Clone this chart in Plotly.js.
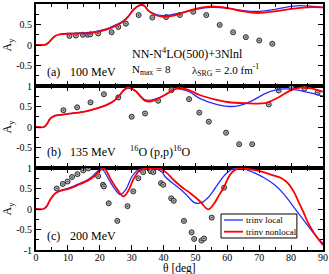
<!DOCTYPE html>
<html><head><meta charset="utf-8">
<script src="https://cdn.plot.ly/plotly-3.0.1.min.js"></script>
<style>html,body{margin:0;padding:0;background:#fff}</style>
</head><body>
<div id="chart" style="width:329px;height:274px"></div>
<script>
// ---- Data ----
// Panel (a) 100 MeV
const expA_theta = [10.5,12.5,14.7,16.2,17.0,19.5,23.7,25.8,28.2,32.2,36.5,40.8,45.1,49.3,53.4,57.6,61.8,65.8,70.0,74.1];
const expA_ay    = [0.22,0.23,0.25,0.25,0.26,0.28,0.31,0.44,0.52,0.73,0.67,0.68,0.73,0.81,0.73,0.49,0.31,0.19,0.11,0.03];
const locA_theta = [0,2,3,4,5,6,7,8,10,13,17,20,23,25,27.4,29,30.5,32,33,34,35.2,37.8,41,45,50,55,60,65,70,75,80,83,87,90];
const locA_ay    = [0,0,0.01,0.06,0.15,0.22,0.25,0.265,0.28,0.29,0.31,0.35,0.42,0.49,0.59,0.71,0.86,0.95,0.97,0.95,0.84,0.74,0.72,0.78,0.87,0.92,0.9,0.84,0.82,0.87,0.94,0.96,0.94,0.92];
const nlA_theta  = [0,2,3,4,5,6,7,8,10,13,17,20,23,25,27.4,29,30.5,32,33,34,35.2,37.8,41,45,50,55,60,65,69.5,75,80,85,90];
const nlA_ay     = [0,0,0.01,0.06,0.15,0.22,0.25,0.265,0.275,0.28,0.29,0.33,0.4,0.47,0.57,0.7,0.85,0.95,0.98,0.96,0.84,0.72,0.69,0.76,0.88,0.94,0.9,0.82,0.78,0.82,0.88,0.92,0.92];

// Panel (b) 135 MeV
const expB_theta = [8.6,12.9,17.1,21.3,25.8,30.0,34.2,38.3,42.5,48.0,51.2,54.2,59.6,63.7,67.8,73.0,76.1,80.1,84.2,88.3];
const expB_ay    = [0.41,0.48,0.60,0.80,0.72,0.25,0.33,0.64,0.90,0.68,0.35,0.13,-0.14,-0.42,-0.42,0.55,0.89,0.97,0.94,0.84];
const locB_theta = [0,2.5,3.5,4.4,5.5,7,10,14.8,18,22.2,24.5,26.3,27.5,28.7,30,31.5,32.6,34,35.5,37.3,40.4,42.5,44,48,51.3,56.3,60.8,64,68,72,75,78,82,86,90];
const locB_ay    = [0,0,0.08,0.2,0.26,0.29,0.32,0.37,0.43,0.54,0.64,0.78,0.89,0.94,0.93,0.86,0.77,0.67,0.65,0.68,0.78,0.88,0.93,0.86,0.7,0.56,0.5,0.53,0.65,0.82,0.9,0.93,0.9,0.83,0.75];
const nlB_theta  = [0,2.5,3.5,4.4,5.5,7,10,14.8,18,22.2,24.5,26.3,27.5,28.7,30,31.5,32.6,34,35.5,37.3,40.4,42.5,44.5,48,51.3,56.3,60,65.5,71.8,76,80,83,86,90];
const nlB_ay     = [0,0,0.08,0.2,0.26,0.29,0.32,0.37,0.43,0.54,0.64,0.78,0.9,0.96,0.94,0.86,0.76,0.65,0.62,0.66,0.78,0.88,0.95,0.9,0.78,0.67,0.61,0.58,0.58,0.72,0.9,0.96,0.95,0.86];

// Panel (c) 200 MeV
const expC_theta = [6.5,8.4,9.9,11.3,13.0,14.8,16.4,19.5,21.0,21.3,22.8,25.5,28.7,30.5,32.1,33.6,36.0,36.8,39.2,39.9,42.4,43.2,46.4,48.8,49.6,51.9,52.7,55.1,59.0];
const expC_ay    = [0.50,0.61,0.67,0.78,0.85,0.94,0.99,0.80,0.59,0.55,0.14,-0.29,0.07,0.43,0.75,0.90,0.92,0.90,0.63,0.59,0.26,0.20,-0.29,-0.57,-0.73,-0.77,-0.72,-0.21,0.52];
const locC_theta = [0,2.3,3.3,4.4,6,8,10.6,13,15.9,18,19.3,20.3,21.3,22.6,24.6,26.4,28.2,30,31.5,33,35,37,39.5,40.4,43,45,47,49.8,52,54,56.1,59.2,61.5,63.5,66,68.5,71.8,75,78,81,84.3,87.5,90];
const locC_ay    = [0,0,0.06,0.22,0.38,0.46,0.52,0.6,0.7,0.82,0.92,0.97,0.93,0.75,0.5,0.35,0.48,0.78,0.92,0.97,0.99,1.0,0.9,0.8,0.62,0.5,0.36,0.15,0.16,0.28,0.5,0.83,0.97,1.0,0.96,0.88,0.75,0.58,0.34,0.03,-0.31,-0.63,-0.84];
const nlC_theta  = [0,2.3,3.3,4.4,6,8,10.6,13,15.9,18,19.5,20.7,21.8,23.2,25.3,27.4,29,30.5,32,33.6,36,39,41,43,45.5,48.3,51.4,54,56,57.5,58.7,60.8,62.5,64.5,67,70,73.9,77,79.1,81,82.2,84,85.4,87.5,90];
const nlC_ay     = [0,0,0.06,0.22,0.38,0.45,0.5,0.58,0.68,0.78,0.9,0.98,0.96,0.76,0.5,0.31,0.45,0.72,0.9,0.97,1.0,0.98,0.88,0.72,0.55,0.39,0.19,-0.01,0.15,0.35,0.5,0.83,0.96,1.0,0.97,0.93,0.83,0.75,0.62,0.4,0.2,-0.1,-0.35,-0.62,-0.88];

const seriesNames = ['trinv local', 'trinv nonlocal'];
const yTickVals = [-1,-0.5,0,0.5,1];
const yTickTextTop = ['', '-0.5', '0', '0.5', '1'];
const yTickTextBottom = ['-1', '-0.5', '0', '0.5', '1'];
const xTickVals = [0,10,20,30,40,50,60,70,80,90];

// ---- Styles ----
const FONT = 'Liberation Serif, Times New Roman, serif';
const BLUE = '#2a2aff';
const RED = '#ff0000';
const expMarker = {symbol:'circle-dot', size:5, color:'#b0b0b0', line:{color:'#2a2a2a', width:1}};

function expTrace(x, y, xa, ya){
  return {x:x, y:y, xaxis:xa, yaxis:ya, type:'scatter', mode:'markers', marker:expMarker, showlegend:false, hoverinfo:'skip'};
}
function curve(x, y, xa, ya, color, w){
  return {x:x, y:y, xaxis:xa, yaxis:ya, type:'scatter', mode:'lines',
          line:{color:color, width:w, shape:'spline', smoothing:0.9}, showlegend:false, hoverinfo:'skip'};
}

const data = [
  expTrace(expA_theta, expA_ay, 'x', 'y'),
  curve(locA_theta, locA_ay, 'x', 'y', BLUE, 1.3),
  curve(nlA_theta, nlA_ay, 'x', 'y', RED, 1.8),
  expTrace(expB_theta, expB_ay, 'x2', 'y2'),
  curve(locB_theta, locB_ay, 'x2', 'y2', BLUE, 1.3),
  curve(nlB_theta, nlB_ay, 'x2', 'y2', RED, 1.8),
  expTrace(expC_theta, expC_ay, 'x3', 'y3'),
  curve(locC_theta, locC_ay, 'x3', 'y3', BLUE, 1.3),
  curve(nlC_theta, nlC_ay, 'x3', 'y3', RED, 1.8)
];

function xAxis(anchor, showLabels){
  return {anchor:anchor, range:[0,90], showline:true, linecolor:'#000', linewidth:2, mirror:'ticks',
    ticks:'inside', ticklen:5, tickwidth:1, tickcolor:'#000', tickmode:'array', tickvals:xTickVals,
    showticklabels:showLabels, tickfont:{family:FONT, size:10, color:'#000'}, ticklabelstandoff:-3,
    minor:{dtick:5, tick0:0, ticks:'inside', ticklen:3, tickcolor:'#000', showgrid:false},
    showgrid:false, zeroline:false, fixedrange:true};
}
function yAxis(anchor, domain, texts){
  return {anchor:anchor, domain:domain, range:[-1,1], showline:true, linecolor:'#000', linewidth:2, mirror:'ticks',
    ticks:'inside', ticklen:5, tickwidth:1, tickcolor:'#000', tickmode:'array', tickvals:yTickVals, ticktext:texts,
    tickfont:{family:FONT, size:10, color:'#000'},
    minor:{dtick:0.25, tick0:0, ticks:'inside', ticklen:3, tickcolor:'#000', showgrid:false},
    title:{text:'A<sub>y</sub>', font:{family:FONT, size:12, color:'#000'}, standoff:4},
    showgrid:false, zeroline:false, fixedrange:true};
}

function ann(text, x, y, xr, yr, size, xanchor){
  return {text:text, x:x, y:y, xref:xr, yref:yr, xanchor:xanchor||'left', yanchor:'middle', showarrow:false,
          font:{family:FONT, size:size, color:'#000'}};
}

// legend box (paper coordinates of the plot area)
const LG = {x0:0.6446, x1:0.909, y0:0.0488, y1:0.1463, lx0:0.655, lx1:0.721, tx:0.726, ya:0.122, yb:0.0744};

const layout = {
  width:329, height:274,
  margin:{l:36, r:6, t:4, b:24},
  paper_bgcolor:'#fff', plot_bgcolor:'#fff',
  font:{family:FONT, color:'#000'},
  showlegend:false,
  xaxis:xAxis('y', false),
  xaxis2:xAxis('y2', false),
  xaxis3:xAxis('y3', true),
  yaxis:yAxis('x', [2/3, 1], yTickTextTop),
  yaxis2:yAxis('x2', [1/3, 2/3], yTickTextTop),
  yaxis3:yAxis('x3', [0, 1/3], yTickTextBottom),
  shapes:[
    {type:'rect', xref:'paper', yref:'paper', x0:LG.x0, x1:LG.x1, y0:LG.y0, y1:LG.y1, fillcolor:'#fff', line:{color:'#000', width:1}},
    {type:'line', xref:'paper', yref:'paper', x0:LG.lx0, x1:LG.lx1, y0:LG.ya, y1:LG.ya, line:{color:BLUE, width:1.3}},
    {type:'line', xref:'paper', yref:'paper', x0:LG.lx0, x1:LG.lx1, y0:LG.yb, y1:LG.yb, line:{color:RED, width:1.8}}
  ],
  annotations:[
    ann('(a)', 2.8, -0.65, 'x', 'y', 12),
    ann('100 MeV', 10, -0.65, 'x', 'y', 12),
    ann('NN-N<sup>4</sup>LO(500)+3Nlnl', 29.5, -0.2, 'x', 'y', 12),
    ann('N<sub>max</sub> = 8', 29.5, -0.6, 'x', 'y', 11),
    ann('λ<sub>SRG</sub> = 2.0 fm<sup>-1</sup>', 48.3, -0.6, 'x', 'y', 11),
    ann('(b)', 2.8, -0.6, 'x2', 'y2', 12),
    ann('135 MeV', 10, -0.6, 'x2', 'y2', 12),
    ann('<sup>16</sup>O (p,p)<sup>16</sup>O', 28.8, -0.6, 'x2', 'y2', 12),
    ann('(c)', 2.8, -0.66, 'x3', 'y3', 12),
    ann('200 MeV', 10, -0.66, 'x3', 'y3', 12),
    ann(seriesNames[0], LG.tx, LG.ya, 'paper', 'paper', 9),
    ann(seriesNames[1], LG.tx, LG.yb, 'paper', 'paper', 9),
    ann('θ [deg]', 0.5, -0.076, 'paper', 'paper', 11.5, 'center')
  ]
};

Plotly.newPlot('chart', data, layout, {staticPlot:true, displayModeBar:false});
</script>
</body></html>
